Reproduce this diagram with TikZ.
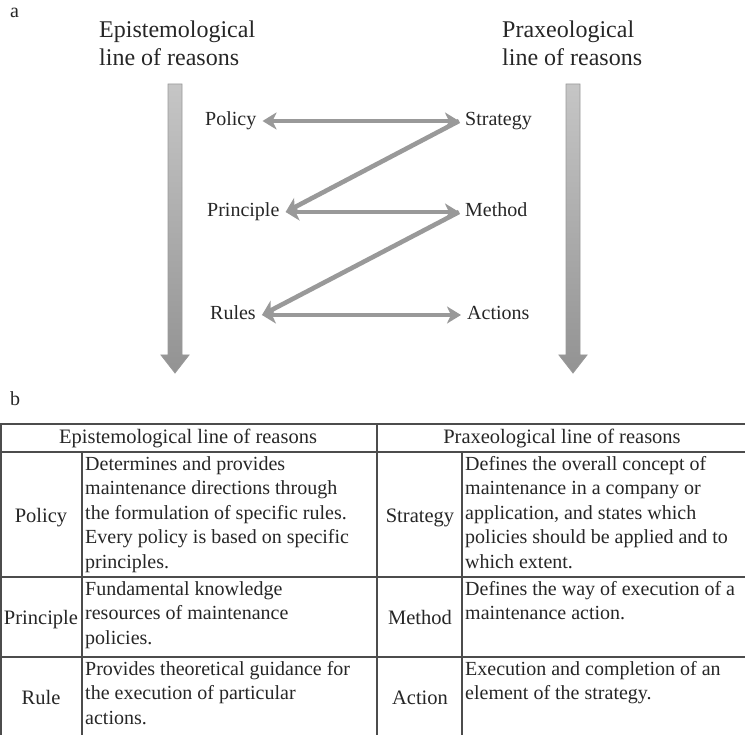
\documentclass[tikz,border=0pt]{standalone}
\usepackage{fontspec}
\setmainfont{Liberation Serif}
\usetikzlibrary{arrows.meta}

\begin{document}
\begin{tikzpicture}[x=1pt,y=-1pt,
    every node/.style={text=black!85},
    title/.style={anchor=north west, align=left, inner sep=0pt, font=\fontsize{24}{28}\selectfont},
    lbl/.style={anchor=west, font=\fontsize{20}{24}\selectfont, text height=14pt, text depth=4pt, inner xsep=6pt, inner ysep=0pt},
    link/.style={draw=gray!80, line width=4.6pt, >={Stealth[length=14pt,width=17pt,inset=4pt]}},
    grid/.style={draw=black!70, line width=1.3pt},
    head/.style={anchor=base, font=\fontsize{20.5}{24}\selectfont},
    key/.style={anchor=base, font=\fontsize{20.5}{24}\selectfont},
    desc/.style={anchor=north west, align=left, inner xsep=3pt, inner ysep=4pt, font=\fontsize{20}{24.5}\selectfont}]
  \useasboundingbox (0,0) rectangle (745,735);

  % panel letters
  \node[anchor=base west, inner sep=0pt, font=\fontsize{20}{24}\selectfont] (pa) at (10,18) {a};
  \node[anchor=base west, inner sep=0pt, font=\fontsize{20}{24}\selectfont] (pb) at (10,406) {b};

  % titles of the two lines of reasons
  \node[title] (epi) at (99,21) {Epistemological\\line of reasons};
  \node[title] (pra) at (502,21) {Praxeological\\line of reasons};

  % big shaded arrows
  \foreach \cx in {175,573} {
    \shade[top color=gray!45, bottom color=gray!85, draw=gray!80, line width=0.8pt]
      (\cx-7,84) -- (\cx+7,84) -- (\cx+7,355) -- (\cx+14,355) -- (\cx,373)
      -- (\cx-14,355) -- (\cx-7,355) -- cycle;
  }

  % terms
  \node[lbl] (policy)    at (199,121) {Policy};
  \node[lbl] (principle) at (201,212) {Principle};
  \node[lbl] (rules)     at (204,315) {Rules};
  \node[lbl] (strategy)  at (459,121) {Strategy};
  \node[lbl] (method)    at (459,212) {Method};
  \node[lbl] (actions)   at (461,315) {Actions};

  % zig-zag connectors
  \draw[link,<->] (policy.east) -- (strategy.west);
  \draw[link,->]  (strategy.west) -- (principle.east);
  \draw[link,<->] (principle.east) -- (method.west);
  \draw[link,->]  (method.west) -- (rules.east);
  \draw[link,<->] (rules.east) -- (actions.west);

  % table grid
  \draw[grid] (0,424) -- (745,424);
  \foreach \y in {452,577,657}
    \draw[grid] (0,\y) -- (745,\y);
  \foreach \x in {1,377}
    \draw[grid] (\x,424) -- (\x,735);
  \foreach \x in {82,462}
    \draw[grid] (\x,452) -- (\x,735);

  % table header
  \node[head] (hepi) at (188,443) {Epistemological line of reasons};
  \node[head] (hpra) at (562,443) {Praxeological line of reasons};

  % left half
  \node[key] (kpolicy)    at (41,522) {Policy};
  \node[key] (kprinciple) at (41,624) {Principle};
  \node[key] (krule)      at (41,704) {Rule};
  \node[desc] (dpolicy) at (82,452) {Determines and provides\\maintenance directions through\\the formulation of specific rules.\\Every policy is based on specific\\principles.};
  \node[desc] (dprinciple) at (82,577) {Fundamental knowledge\\resources of maintenance\\policies.};
  \node[desc] (drule) at (82,657) {Provides theoretical guidance for\\the execution of particular\\actions.};

  % right half
  \node[key] (kstrategy) at (420,522) {Strategy};
  \node[key] (kmethod)   at (420,624) {Method};
  \node[key] (kaction)   at (420,704) {Action};
  \node[desc] (dstrategy) at (462,452) {Defines the overall concept of\\maintenance in a company or\\application, and states which\\policies should be applied and to\\which extent.};
  \node[desc] (dmethod) at (462,577) {Defines the way of execution of a\\maintenance action.};
  \node[desc] (daction) at (462,657) {Execution and completion of an\\element of the strategy.};
\end{tikzpicture}
\end{document}
